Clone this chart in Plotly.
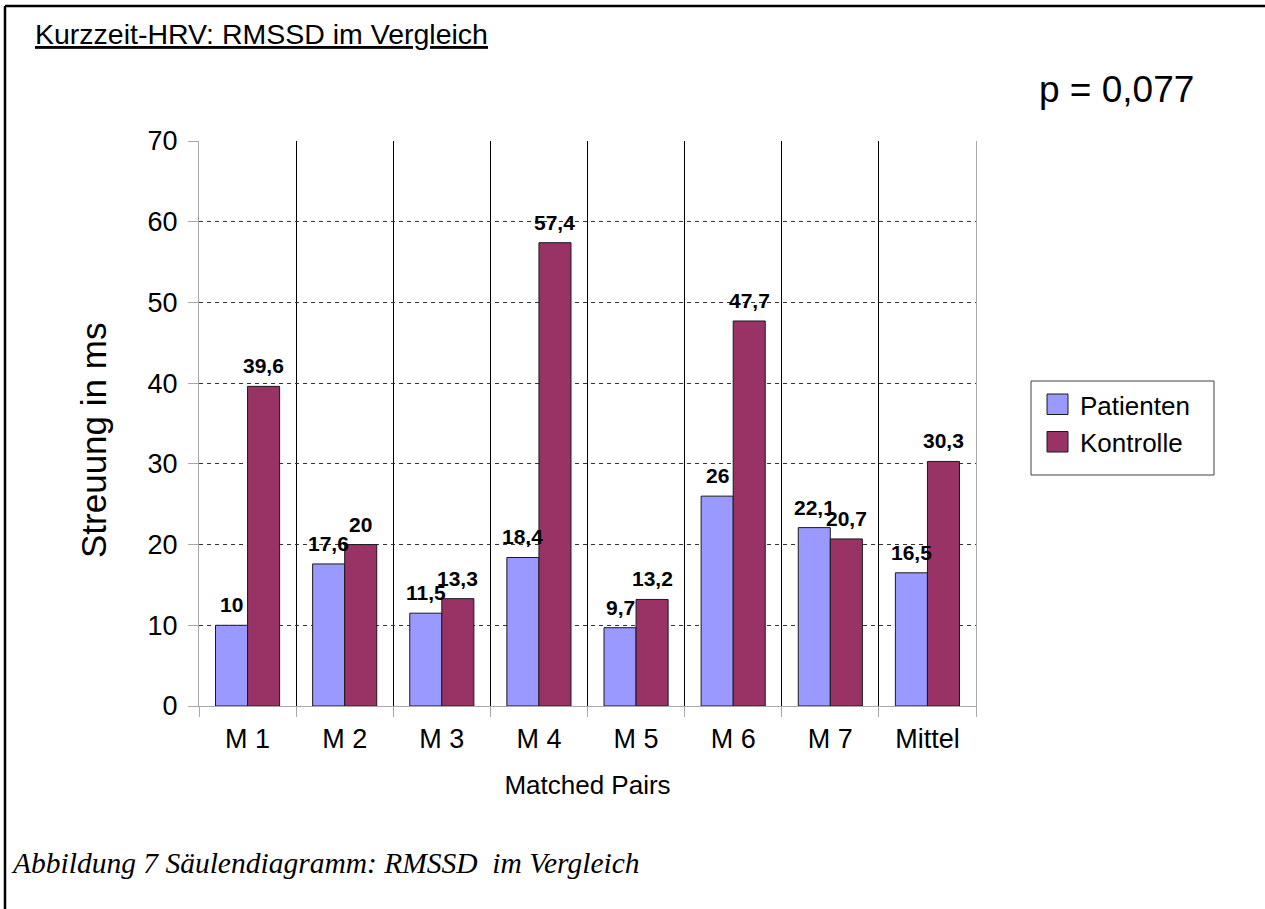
import plotly.graph_objects as go

# ---- data ----
categories = ["M 1", "M 2", "M 3", "M 4", "M 5", "M 6", "M 7", "Mittel"]
patienten = [10, 17.6, 11.5, 18.4, 9.7, 26, 22.1, 16.5]
kontrolle = [39.6, 20, 13.3, 57.4, 13.2, 47.7, 20.7, 30.3]
series_names = ["Patienten", "Kontrolle"]
series_colors = ["#9999FF", "#993366"]
y_ticks = [0, 10, 20, 30, 40, 50, 60, 70]

title_text = "Kurzzeit-HRV: RMSSD im Vergleich"
p_text = "p = 0,077"
x_title = "Matched Pairs"
y_title = "Streuung in ms"
caption = "Abbildung 7 Säulendiagramm: RMSSD \u00a0im Vergleich"

FW, FH = 1265, 909
L, R, T, B = 199, 289, 141, 203
PW, PH = FW - L - R, FH - T - B


def px(x):
    return (x - L) / PW


def py(y):
    return (FH - B - y) / PH


def fmt(v):
    return f"{v:g}".replace(".", ",")


SANS = "Liberation Sans, Arial, sans-serif"
SERIF = "Liberation Serif, Times New Roman, serif"

fig = go.Figure()
for name, vals, col in zip(series_names, [patienten, kontrolle], series_colors):
    fig.add_trace(go.Bar(
        x=categories, y=vals, name=name,
        marker=dict(color=col, line=dict(color="#1a1a1a", width=1)),
        showlegend=False, hoverinfo="x+y",
    ))

annotations = []
# data labels
for shift, vals in zip([-16, 16], [patienten, kontrolle]):
    for c, v in zip(categories, vals):
        annotations.append(dict(
            x=c, y=v, xref="x", yref="y", text=fmt(v), showarrow=False,
            xshift=shift, yshift=7, yanchor="bottom", xanchor="center",
            font=dict(family=SANS, size=21, color="black", weight="bold"),
        ))

# title
annotations.append(dict(
    x=px(33), y=py(34), xref="paper", yref="paper", text=title_text,
    showarrow=False, xanchor="left", yanchor="middle",
    font=dict(family=SANS, size=28.5, color="black", lineposition="under"),
))
# p value
annotations.append(dict(
    x=px(1037), y=py(89.5), xref="paper", yref="paper", text=p_text,
    showarrow=False, xanchor="left", yanchor="middle",
    font=dict(family=SANS, size=37, color="black"),
))
# y title
annotations.append(dict(
    x=px(94), y=py(441), xref="paper", yref="paper", text=y_title,
    showarrow=False, xanchor="center", yanchor="middle", textangle=-90,
    font=dict(family=SANS, size=35, color="black"),
))
# caption
annotations.append(dict(
    x=px(9), y=py(863), xref="paper", yref="paper", text=caption,
    showarrow=False, xanchor="left", yanchor="middle",
    font=dict(family=SERIF, size=29.5, color="black", style="italic"),
))

shapes = []
# outer frame (only top and left visible)
shapes.append(dict(type="line", xref="paper", yref="paper",
                   x0=px(5), x1=px(1300), y0=py(6), y1=py(6),
                   line=dict(color="black", width=2.5)))
shapes.append(dict(type="line", xref="paper", yref="paper",
                   x0=px(5), x1=px(5), y0=py(6), y1=py(950),
                   line=dict(color="black", width=2.5)))
# legend
shapes.append(dict(type="rect", xref="paper", yref="paper",
                   x0=px(1031), x1=px(1214), y0=py(381), y1=py(475),
                   line=dict(color="#404040", width=1), fillcolor="white"))
leg_rows = [(394, 414.5, 406), (431.5, 452, 443)]
for (y0, y1, ym), name, col in zip(leg_rows, series_names, series_colors):
    shapes.append(dict(type="rect", xref="paper", yref="paper",
                       x0=px(1047), x1=px(1068), y0=py(y0), y1=py(y1),
                       line=dict(color="#1a1a1a", width=1), fillcolor=col))
    annotations.append(dict(
        x=px(1078), y=py(ym), xref="paper", yref="paper", text=name,
        showarrow=False, xanchor="left", yanchor="middle",
        font=dict(family=SANS, size=26, color="black"),
    ))

fig.update_layout(
    width=FW, height=FH,
    margin=dict(l=L, r=R, t=T, b=B, pad=0),
    paper_bgcolor="white", plot_bgcolor="white",
    barmode="group", bargap=0.34, bargroupgap=0,
    annotations=annotations, shapes=shapes,
    showlegend=False,
    font=dict(family=SANS, color="black"),
)
fig.update_xaxes(
    type="category", range=[-0.5, len(categories) - 0.5],
    tickson="boundaries", ticks="outside", ticklen=10, tickcolor="#a8a8a8",
    showgrid=True, gridcolor="black", gridwidth=1,
    showline=True, linecolor="#a8a8a8", linewidth=1,
    tickfont=dict(family=SANS, size=27, color="black"),
    ticklabelstandoff=9,
    title=dict(text=x_title, font=dict(family=SANS, size=26, color="black"), standoff=22),
)
fig.update_yaxes(
    range=[0, 70], tickvals=y_ticks, ticktext=[str(t) for t in y_ticks],
    ticks="outside", ticklen=10, tickcolor="#a8a8a8",
    showgrid=True, gridcolor="#333333", gridwidth=1, griddash="4px,4px",
    zeroline=False, showline=True, linecolor="#a8a8a8", linewidth=1, mirror=True,
    tickfont=dict(family=SANS, size=27, color="black"),
    ticklabelstandoff=5,
)

fig.write_html(
    "out.html",
    config={"displayModeBar": False},
    post_script="document.body.style.margin='0';document.body.style.overflow='hidden';",
)
